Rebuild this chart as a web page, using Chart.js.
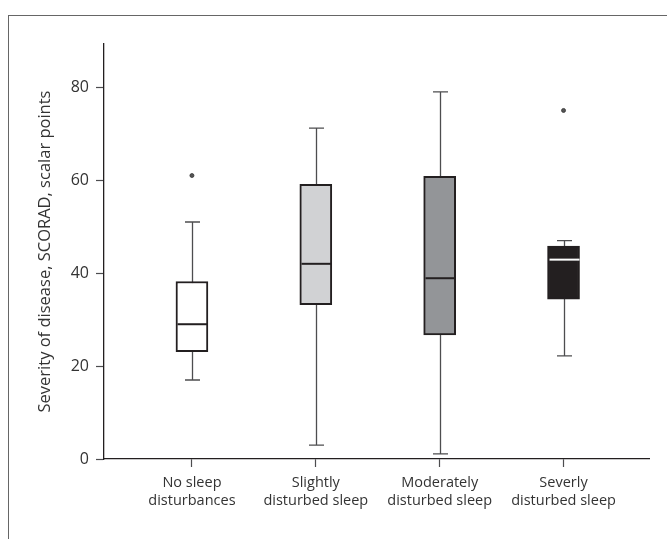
<!DOCTYPE html>
<html>
<head>
<meta charset="utf-8">
<script src="https://cdn.jsdelivr.net/npm/chart.js@4.4.1/dist/chart.umd.min.js"></script>
<style>
  html, body { margin: 0; padding: 0; background: #fff; }
  #wrap { position: relative; width: 667px; height: 539px; overflow: hidden; }
  #frame { position: absolute; left: 8px; top: 15px; right: -4px; bottom: -4px;
           border-left: 1.5px solid #666; border-top: 1.5px solid #666; }
  canvas { position: absolute; left: 0; top: 0; }
</style>
</head>
<body>
<div id="wrap">
  <div id="frame"></div>
  <canvas id="chart" width="667" height="539"></canvas>
</div>
<script>
const categories = [
  ["No sleep", "disturbances"],
  ["Slightly", "disturbed sleep"],
  ["Moderately", "disturbed sleep"],
  ["Severly", "disturbed sleep"]
];
const positions = [1, 2, 3, 4];
const whiskerLow = [17, 3, 1.1, 22.2];
const q1 = [23.1, 33.2, 26.7, 34.4];
const median = [29, 42, 38.9, 42.9];
const q3 = [38.2, 59.1, 60.8, 45.8];
const whiskerHigh = [51, 71.2, 79, 47];
const outlierPos = [1, 4];
const outlierVal = [61, 75];
const yTicks = [0, 20, 40, 60, 80];

const boxFill = ["#ffffff", "#d1d2d4", "#939598", "#231f20"];
const medianColor = ["#231f20", "#231f20", "#231f20", "#ffffff"];
const font = "'Open Sans', 'Noto Sans', sans-serif";

// whiskers + caps under the boxes, medians on top
const boxParts = {
  id: "boxParts",
  beforeDatasetsDraw(chart) {
    const { ctx, scales: { x, y } } = chart;
    ctx.save();
    ctx.strokeStyle = "#4d4d4f";
    ctx.lineWidth = 1.3;
    positions.forEach((p, i) => {
      const px = Math.round(x.getPixelForValue(p)) + 0.5;
      const lo = y.getPixelForValue(whiskerLow[i]);
      const hi = y.getPixelForValue(whiskerHigh[i]);
      ctx.beginPath();
      ctx.moveTo(px, lo); ctx.lineTo(px, hi);
      ctx.moveTo(px - 7.5, lo); ctx.lineTo(px + 7.5, lo);
      ctx.moveTo(px - 7.5, hi); ctx.lineTo(px + 7.5, hi);
      ctx.stroke();
    });
    ctx.restore();
  },
  afterDatasetsDraw(chart) {
    const { ctx, scales: { x, y } } = chart;
    ctx.save();
    ctx.lineWidth = 2;
    positions.forEach((p, i) => {
      const px = Math.round(x.getPixelForValue(p)) + 0.5;
      const my = y.getPixelForValue(median[i]);
      ctx.strokeStyle = medianColor[i];
      ctx.beginPath();
      ctx.moveTo(px - 15, my); ctx.lineTo(px + 15, my);
      ctx.stroke();
    });
    ctx.restore();
  }
};

new Chart(document.getElementById("chart"), {
  type: "bar",
  data: {
    datasets: [
      {
        type: "bar",
        data: positions.map((p, i) => ({ x: p, y: [q1[i], q3[i]] })),
        backgroundColor: boxFill,
        borderColor: "#231f20",
        borderWidth: 2,
        borderSkipped: false,
        barThickness: 32
      },
      {
        type: "scatter",
        data: outlierPos.map((p, i) => ({ x: p, y: outlierVal[i] })),
        pointRadius: 2,
        pointBackgroundColor: "#555",
        pointBorderColor: "#333",
        pointBorderWidth: 0.8
      }
    ]
  },
  options: {
    responsive: false,
    animation: false,
    layout: { padding: { top: 44, right: 18, left: 0, bottom: 0 } },
    scales: {
      x: {
        type: "linear",
        min: 0.29,
        max: 4.69,
        offset: false,
        afterBuildTicks: axis => { axis.ticks = positions.map(v => ({ value: v })); },
        afterFit: axis => { axis.height = 80; },
        grid: { offset: false, drawOnChartArea: false, drawTicks: true, tickLength: 8, tickColor: "#4d4d4f", tickWidth: 1.2 },
        border: { display: true, color: "#231f20", width: 1.3 },
        ticks: {
          autoSkip: false,
          maxRotation: 0,
          padding: 6,
          color: "#333",
          font: { family: font, size: 14.5, lineHeight: 1.3 },
          callback: v => categories[positions.indexOf(v)] || ""
        }
      },
      y: {
        min: 0,
        max: 89.3,
        afterBuildTicks: axis => { axis.ticks = yTicks.map(v => ({ value: v })); },
        afterFit: axis => { axis.width = 104; },
        grid: { drawOnChartArea: false, drawTicks: true, tickLength: 8, tickColor: "#4d4d4f", tickWidth: 1.2 },
        border: { display: true, color: "#231f20", width: 1.3 },
        ticks: {
          padding: 7,
          color: "#333",
          font: { family: font, size: 16 }
        },
        title: {
          display: true,
          text: "Severity of disease, SCORAD, scalar points",
          color: "#333",
          font: { family: font, size: 16.5 },
          padding: { top: 35, bottom: 0 }
        }
      }
    },
    plugins: {
      legend: { display: false },
      tooltip: { enabled: false }
    }
  },
  plugins: [boxParts]
});
</script>
</body>
</html>
